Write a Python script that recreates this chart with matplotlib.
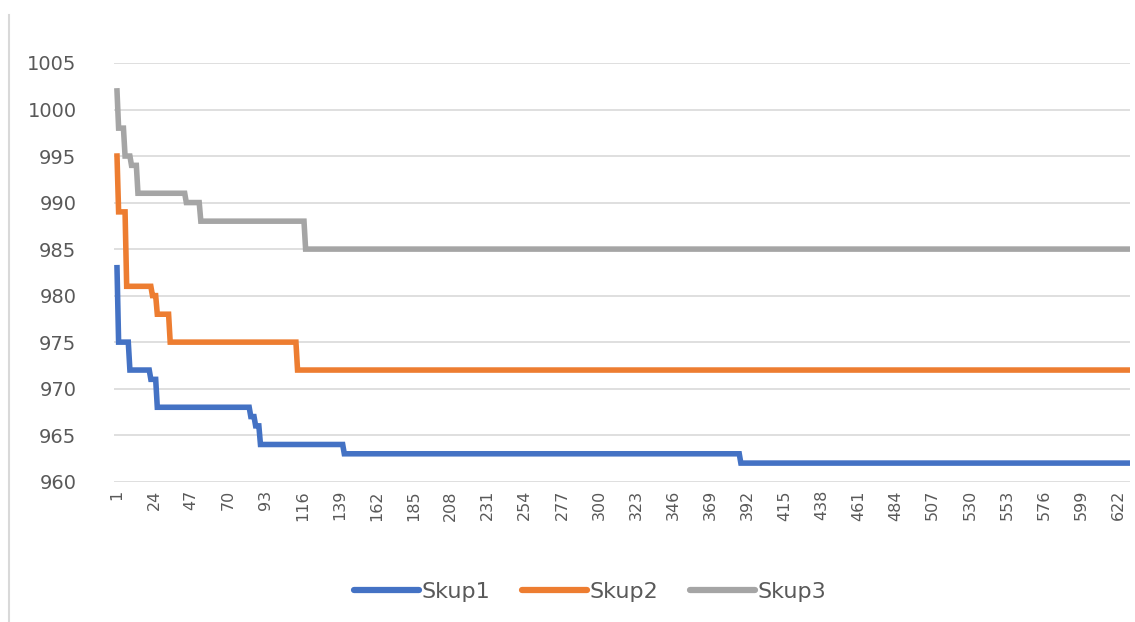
import numpy as np
import matplotlib
matplotlib.use("Agg")
import matplotlib.pyplot as plt
from matplotlib.lines import Line2D

plt.rcParams['font.family'] = ['DejaVu Sans']

# ---- data (step changes) ----
n_points = 629
series_names = ["Skup1", "Skup2", "Skup3"]

skup1_starts = [1, 2, 9, 22, 26, 84, 87, 90, 142, 388]
skup1_values = [983, 975, 972, 971, 968, 967, 966, 964, 963, 962]

skup2_starts = [1, 2, 7, 23, 26, 34, 113]
skup2_values = [995, 989, 981, 980, 978, 975, 972]

skup3_starts = [1, 2, 6, 10, 14, 44, 53, 118]
skup3_values = [1002, 998, 995, 994, 991, 990, 988, 985]

colors = ["#4472C4", "#ED7D31", "#A5A5A5"]

y_ticks = [960, 965, 970, 975, 980, 985, 990, 995, 1000, 1005]
x_tick_labels = list(range(1, n_points + 1, 23))


def expand(starts, values, n):
    bounds = list(starts) + [n + 1]
    lengths = np.diff(bounds)
    return np.repeat(values, lengths)


x = np.arange(1, n_points + 1)
series = [expand(skup1_starts, skup1_values, n_points),
          expand(skup2_starts, skup2_values, n_points),
          expand(skup3_starts, skup3_values, n_points)]

fig = plt.figure(figsize=(11.35, 6.22), dpi=100)
ax = fig.add_axes([114 / 1135, 1 - 481.7 / 622, (1130 - 114) / 1135, (481.7 - 63) / 622])

for name, y, c in zip(series_names, series, colors):
    ax.plot(x, y, color=c, lw=4, label=name, solid_joinstyle='miter', zorder=3)

ax.set_ylim(960, 1005)
ax.set_yticks(y_ticks)
ax.set_xlim(-0.86, 629.4)
ax.set_xticks(x_tick_labels)
ax.set_xticklabels([str(v) for v in x_tick_labels], rotation=90)

ax.grid(axis='y', color='#D9D9D9', lw=1.2, zorder=0)
ax.grid(axis='x', visible=False)
for s in ax.spines.values():
    s.set_visible(False)
ax.tick_params(axis='both', length=0, colors='#595959')
ax.tick_params(axis='y', labelsize=14, pad=27)
ax.tick_params(axis='x', labelsize=11.5, pad=6)

handles = [Line2D([], [], color=c, lw=4.5, solid_capstyle='round') for c in colors]
fig.legend(handles, series_names, loc='center', bbox_to_anchor=(0.52, 0.048),
           ncol=3, frameon=False, fontsize=16, handlelength=2.9,
           handletextpad=0.12, columnspacing=1.45, labelcolor='#595959')

fig.add_artist(Line2D([9 / 1135, 9 / 1135], [0, 1 - 15 / 622],
                      transform=fig.transFigure, color='#D9D9D9', lw=1.5))

fig.savefig("out.png", dpi=100)
